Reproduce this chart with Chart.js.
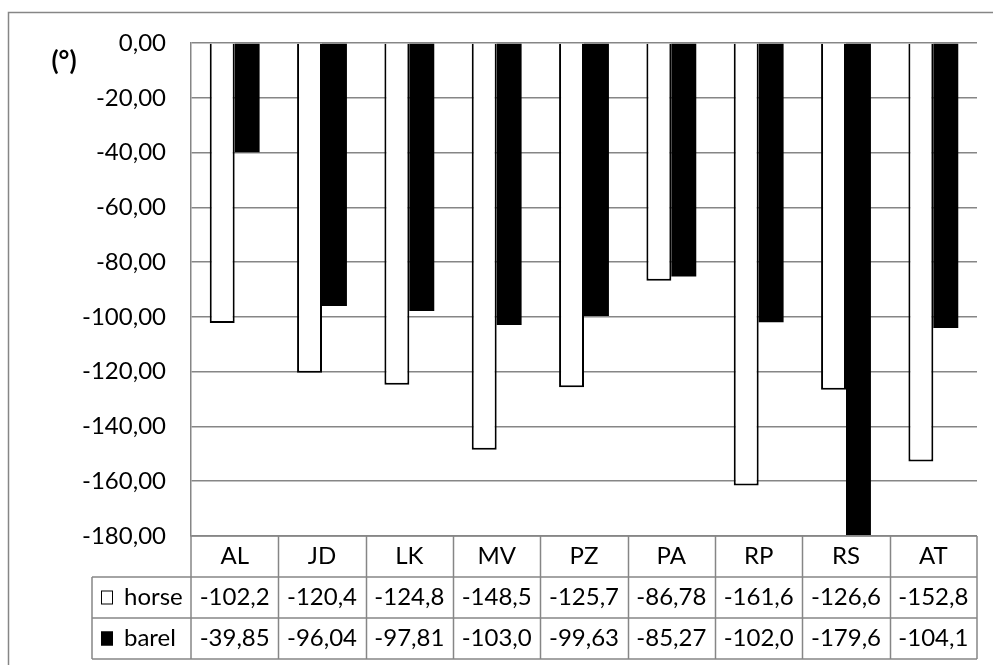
<!DOCTYPE html>
<html>
<head>
<meta charset="utf-8">
<script src="https://cdn.jsdelivr.net/npm/chart.js@4.4.1/dist/chart.umd.min.js"></script>
<style>
  html, body { margin: 0; padding: 0; background: #fff; }
  canvas { display: block; }
</style>
</head>
<body>
<canvas id="chart" width="993" height="665"></canvas>
<script>
// Rotation angles per subject (degrees)
const categories = ['AL', 'JD', 'LK', 'MV', 'PZ', 'PA', 'RP', 'RS', 'AT'];
const horseValues = [-102.2, -120.4, -124.8, -148.5, -125.7, -86.78, -161.6, -126.6, -152.8];
const barelValues = [-39.85, -96.04, -97.81, -103.0, -99.63, -85.27, -102.0, -179.6, -104.1];
const seriesNames = ['horse', 'barel'];
const yMin = -180;
const yMax = 0;
const yStep = 20;
const unitLabel = '(°)';

const FONT = 'Lato, "Open Sans", sans-serif';
const TEXT_SIZE = 24;
const LINE_GREY = '#868686';

const fmtTick = v => v.toFixed(2).replace('.', ',');
const fmtCell = v => v.toPrecision(4).replace('.', ',');

// Chart frame, unit label and the data table under the plot
const frameAndTable = {
  id: 'frameAndTable',
  beforeDraw(chart) {
    const ctx = chart.ctx;
    ctx.save();
    ctx.fillStyle = '#fff';
    ctx.fillRect(0, 0, chart.width, chart.height);
    ctx.strokeStyle = LINE_GREY;
    ctx.lineWidth = 1.5;
    ctx.strokeRect(8.5, 12.5, chart.width + 20, chart.height + 20);
    ctx.restore();
  },
  afterDraw(chart) {
    const ctx = chart.ctx;
    const area = chart.chartArea;
    const x = chart.scales.x;
    const catW = (area.right - area.left) / categories.length;
    const rowH = 41;
    const top = area.bottom;
    const legendLeft = 92;
    const rowTops = [top, top + rowH, top + 2 * rowH, top + 3 * rowH];

    ctx.save();
    // unit label
    ctx.fillStyle = '#000';
    ctx.font = 'bold 26px ' + FONT;
    ctx.textAlign = 'center';
    ctx.textBaseline = 'middle';
    ctx.fillText(unitLabel, 64, 62);

    // table grid
    ctx.strokeStyle = LINE_GREY;
    ctx.lineWidth = 1.5;
    ctx.beginPath();
    ctx.moveTo(area.left, rowTops[0]);
    ctx.lineTo(area.right, rowTops[0]);
    for (let r = 1; r <= 3; r++) {
      ctx.moveTo(legendLeft, rowTops[r]);
      ctx.lineTo(area.right, rowTops[r]);
    }
    for (let i = 0; i <= categories.length; i++) {
      const px = Math.round(x.getPixelForValue(i) - catW / 2) + 0.5;
      const edge = i === categories.length ? area.right : (i === 0 ? area.left : px);
      ctx.moveTo(edge, rowTops[0]);
      ctx.lineTo(edge, rowTops[3]);
    }
    ctx.moveTo(legendLeft, rowTops[1]);
    ctx.lineTo(legendLeft, rowTops[3]);
    ctx.stroke();

    // cell text
    ctx.fillStyle = '#000';
    ctx.font = TEXT_SIZE + 'px ' + FONT;
    ctx.textAlign = 'center';
    ctx.textBaseline = 'middle';
    const rows = [horseValues, barelValues];
    categories.forEach((cat, i) => {
      const cx = x.getPixelForValue(i);
      ctx.fillText(cat, cx, rowTops[0] + rowH / 2);
      rows.forEach((vals, r) => {
        ctx.fillText(fmtCell(vals[i]), cx, rowTops[r + 1] + rowH / 2);
      });
    });

    // legend keys
    ctx.textAlign = 'left';
    chart.data.datasets.forEach((ds, r) => {
      const cy = rowTops[r + 1] + rowH / 2;
      ctx.fillStyle = ds.backgroundColor;
      ctx.fillRect(101, cy - 7, 12, 14);
      ctx.strokeStyle = '#000';
      ctx.lineWidth = 1;
      ctx.strokeRect(101.5, cy - 6.5, 11, 13);
      ctx.fillStyle = '#000';
      ctx.fillText(seriesNames[r], 124, cy);
    });
    ctx.restore();
  }
};

new Chart(document.getElementById('chart'), {
  type: 'bar',
  data: {
    labels: categories,
    datasets: [
      {
        label: seriesNames[0],
        data: horseValues,
        backgroundColor: '#ffffff',
        borderColor: '#000000',
        borderWidth: 2,
        borderSkipped: 'start'
      },
      {
        label: seriesNames[1],
        data: barelValues,
        backgroundColor: '#000000',
        borderWidth: 0
      }
    ]
  },
  options: {
    responsive: false,
    animation: false,
    devicePixelRatio: 1,
    layout: { padding: { top: 43, right: 16, bottom: 129, left: 0 } },
    datasets: { bar: { categoryPercentage: 0.571, barPercentage: 1 } },
    plugins: {
      legend: { display: false },
      tooltip: { enabled: false },
      title: { display: false }
    },
    scales: {
      x: {
        display: false
      },
      y: {
        min: yMin,
        max: yMax,
        afterFit(scale) { scale.width = 191; },
        ticks: {
          stepSize: yStep,
          padding: 25,
          color: '#000',
          font: { family: FONT, size: TEXT_SIZE },
          callback: v => fmtTick(v)
        },
        grid: { color: LINE_GREY, lineWidth: 1.5, drawTicks: false },
        border: { color: LINE_GREY, width: 1.5 }
      }
    }
  },
  plugins: [frameAndTable]
});
</script>
</body>
</html>
